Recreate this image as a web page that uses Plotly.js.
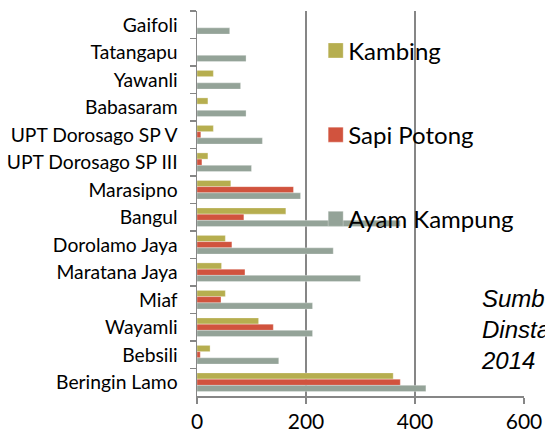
<!DOCTYPE html>
<html>
<head>
<meta charset="utf-8">
<script src="https://cdn.plot.ly/plotly-3.0.1.min.js"></script>
<style>html,body{margin:0;padding:0;background:#fff;}#chart{width:545px;height:440px;}</style>
</head>
<body>
<div id="chart"></div>
<script>
var categories = ["Gaifoli","Tatangapu","Yawanli","Babasaram","UPT Dorosago SP V","UPT Dorosago SP III","Marasipno","Bangul","Dorolamo Jaya","Maratana Jaya","Miaf","Wayamli","Bebsili","Beringin Lamo"];
var kambing    = [0, 0, 30, 20, 30, 20, 62, 163, 52, 45, 52, 113, 24, 360];
var sapiPotong = [0, 0, 0, 0, 7, 9, 177, 86, 64, 88, 44, 140, 6, 373];
var ayamKampung= [60, 90, 80, 90, 120, 100, 190, 373, 250, 300, 212, 212, 150, 420];
var xTicks = [0, 200, 400, 600];
var sourceLines = ["Sumber:", "Dinstanak", "2014"];

var lineCol = '#868686';
function tr(name, vals, col){
  return {type:'bar', orientation:'h', name:name, x:vals, y:categories,
    legendgroup:name,
    marker:{color:col, line:{color:'rgba(255,255,255,0.6)', width:0.5}},
    hoverinfo:'x+y'};
}
var data = [
  tr('Kambing', kambing, '#b6ae4f'),
  tr('Sapi Potong', sapiPotong, '#d1533e'),
  tr('Ayam Kampung', ayamKampung, '#94a398')
];
var layout = {
  width:545, height:440,
  margin:{l:197, r:21, t:11, b:44},
  paper_bgcolor:'#fff', plot_bgcolor:'rgba(0,0,0,0)',
  barmode:'group', bargap:0.32, bargroupgap:0,
  font:{family:'Lato, "Open Sans", sans-serif', color:'#000'},
  showlegend:true,
  legend:{x:0.34, y:0.955, xanchor:'left', yanchor:'top', bgcolor:'rgba(0,0,0,0)',
    font:{size:24, family:'Lato, sans-serif', color:'#000'}, tracegroupgap:50, traceorder:'grouped'},
  xaxis:{range:[0,600], tickvals:xTicks, ticktext:xTicks.map(String),
    showgrid:true, gridcolor:lineCol, gridwidth:1.5, zeroline:false,
    showline:true, linecolor:lineCol, linewidth:1.5,
    ticks:'outside', ticklen:6, tickcolor:lineCol, tickwidth:1.5,
    tickfont:{size:21, family:'Lato, sans-serif'}, fixedrange:true},
  yaxis:{type:'category', autorange:'reversed', showgrid:false, zeroline:false,
    showline:true, linecolor:lineCol, linewidth:1.5,
    ticks:'outside', ticklen:6, tickcolor:lineCol, tickwidth:1.5, tickson:'boundaries',
    tickfont:{size:19.3, family:'Lato, sans-serif'}, ticklabelstandoff:14, fixedrange:true},
  annotations:[{xref:'paper', yref:'paper', x:(479-197)/327, y:(440-44-283)/385, xanchor:'left', yanchor:'top',
    text:sourceLines.join('<br>'), showarrow:false, align:'left',
    font:{size:24, family:'"Liberation Sans", Arial, sans-serif', color:'#000', style:'italic'}}]
};
Plotly.newPlot('chart', data, layout, {displayModeBar:false, staticPlot:true}).then(function(gd){
  var pts = gd.querySelectorAll('.legend .legendpoints path');
  pts.forEach(function(p){
    p.setAttribute('d', 'M7.5,7.5H-7.5V-7.5H7.5Z');
    p.setAttribute('transform', 'translate(27.5,0)');
  });
});
</script>
</body>
</html>
